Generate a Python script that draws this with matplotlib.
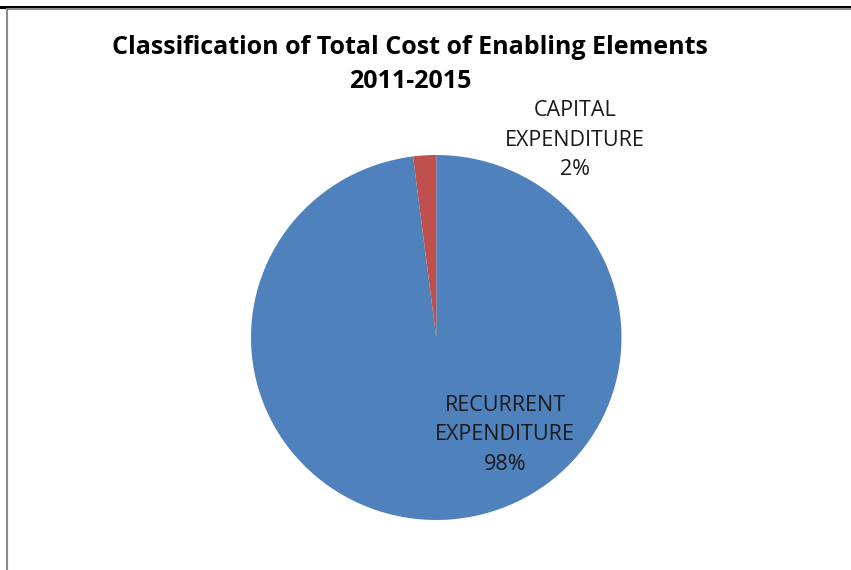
import matplotlib
matplotlib.use("Agg")
import matplotlib.pyplot as plt
from matplotlib.lines import Line2D

# Cost classification shares (percent)
categories = ["RECURRENT\nEXPENDITURE", "CAPITAL\nEXPENDITURE"]
shares = [98, 2]
colors = ["#4F81BD", "#C0504D"]

title_lines = ["Classification of Total Cost of Enabling Elements", "2011-2015"]

W, H = 851, 570
fig = plt.figure(figsize=(W / 100, H / 100), dpi=100)
fig.patch.set_facecolor("white")

def fx(px):
    return px / W

def fy(py):
    return 1 - py / H

# Pie axes placed in pixel terms
left, right, top, bottom = 251, 621.5, 155, 520
ax = fig.add_axes([fx(left), fy(bottom), fx(right - left), (bottom - top) / H])
ax.pie(shares, colors=colors, startangle=90, counterclock=False,
       radius=1.0, wedgeprops=dict(linewidth=0))
ax.set_aspect("auto")
ax.set_xlim(-1, 1)
ax.set_ylim(-1, 1)
ax.axis("off")

# Title
for line, py in zip(title_lines, [48, 81]):
    fig.text(fx(410), fy(py), line, ha="center", va="center", fontsize=18,
             fontweight="bold", family="Open Sans", color="black")

# Data labels
label_pos = [(505, 435), (575, 140)]
for cat, val, (px, py) in zip(categories, shares, label_pos):
    fig.text(fx(px), fy(py), f"{cat}\n{val}%", ha="center", va="center",
             fontsize=15.5, family="Open Sans", color="#1a1a1a",
             linespacing=1.55)

# Chart frame
fig.add_artist(Line2D([0, 1], [fy(6.5), fy(6.5)], color="black", lw=2.2,
                      transform=fig.transFigure))
fig.add_artist(Line2D([fx(7), 1], [fy(8.7), fy(8.7)], color="#8c8c8c", lw=1.5,
                      transform=fig.transFigure))
fig.add_artist(Line2D([fx(7), fx(7)], [fy(8.7), 0], color="#8c8c8c", lw=1.5,
                      transform=fig.transFigure))

fig.savefig("out.png", dpi=100, facecolor="white")
